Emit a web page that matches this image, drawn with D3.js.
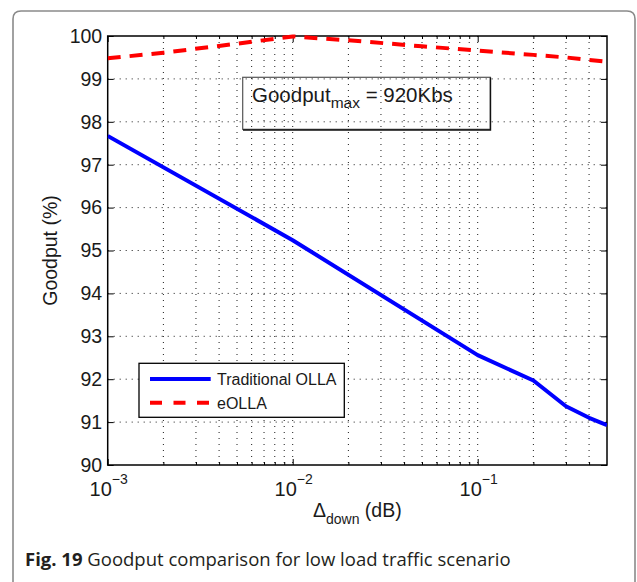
<!DOCTYPE html>
<html>
<head>
<meta charset="utf-8">
<script src="https://cdn.jsdelivr.net/npm/d3@7"></script>
<style>
  html, body { margin: 0; padding: 0; background: #fff; }
  svg { display: block; }
</style>
</head>
<body>
<div id="chart"></div>
<script>
// Values
const deltaDownTrad = [0.001, 0.01, 0.1, 0.2, 0.3, 0.4, 0.5];
const goodputTrad = [97.67, 95.24, 92.56, 91.97, 91.37, 91.1, 90.93];

const deltaDownEolla = [0.001, 0.002, 0.005, 0.01, 0.02, 0.05, 0.1, 0.2, 0.3, 0.4, 0.5];
const goodputEolla = [99.48, 99.61, 99.82, 99.99, 99.9, 99.76, 99.66, 99.56, 99.5, 99.44, 99.4];

const seriesNames = ['Traditional OLLA', 'eOLLA'];
const yTickValues = [90, 91, 92, 93, 94, 95, 96, 97, 98, 99, 100];
const xDecades = [0.001, 0.01, 0.1];
const xExponents = ['\u22123', '\u22122', '\u22121'];
const xMinorTicks = [0.002, 0.003, 0.004, 0.005, 0.006, 0.007, 0.008, 0.009,
  0.02, 0.03, 0.04, 0.05, 0.06, 0.07, 0.08, 0.09, 0.2, 0.3, 0.4];

const width = 637;
const height = 582;
const plot = { left: 107.7, right: 607, top: 36, bottom: 465 };
const tickFont = 'Liberation Sans, Arial, Helvetica, sans-serif';

const svg = d3.select('#chart')
  .append('svg')
  .attr('width', width)
  .attr('height', height);

// outer figure frame (rounded top corners, open at the bottom)
svg.append('path')
  .attr('d', `M13,${height + 5} L13,19 Q13,11 21,11 L627,11 Q635,11 635,19 L635,${height + 5}`)
  .attr('fill', 'none')
  .attr('stroke', '#8a8a8a')
  .attr('stroke-width', 1.6);

// scales
const x = d3.scaleLog()
  .domain([0.001, 0.5])
  .range([plot.left, plot.right]);

const y = d3.scaleLinear()
  .domain([90, 100])
  .range([plot.bottom, plot.top]);

// dotted grid
const grid = svg.append('g')
  .attr('stroke', '#000')
  .attr('stroke-width', 0.9)
  .attr('stroke-dasharray', '1,5');

grid.selectAll('.vgrid')
  .data(xDecades.concat(xMinorTicks).filter(d => d > 0.001))
  .join('line')
  .attr('x1', d => x(d)).attr('x2', d => x(d))
  .attr('y1', plot.top).attr('y2', plot.bottom);

grid.selectAll('.hgrid')
  .data(yTickValues.filter(d => d > 90 && d < 100))
  .join('line')
  .attr('x1', plot.left).attr('x2', plot.right)
  .attr('y1', d => y(d)).attr('y2', d => y(d));

// axes with inward ticks
const axisStyle = g => {
  g.select('.domain').remove();
  g.selectAll('line').attr('stroke', '#000').attr('stroke-width', 1);
  g.selectAll('text').remove();
};

svg.append('g')
  .attr('transform', `translate(0,${plot.bottom})`)
  .call(d3.axisBottom(x).tickValues(xDecades).tickSize(-6))
  .call(axisStyle);
svg.append('g')
  .attr('transform', `translate(0,${plot.bottom})`)
  .call(d3.axisBottom(x).tickValues(xMinorTicks).tickSize(-3))
  .call(axisStyle);
svg.append('g')
  .attr('transform', `translate(0,${plot.top})`)
  .call(d3.axisTop(x).tickValues(xDecades).tickSize(-6))
  .call(axisStyle);
svg.append('g')
  .attr('transform', `translate(0,${plot.top})`)
  .call(d3.axisTop(x).tickValues(xMinorTicks).tickSize(-3))
  .call(axisStyle);
svg.append('g')
  .attr('transform', `translate(${plot.left},0)`)
  .call(d3.axisLeft(y).tickValues(yTickValues).tickSize(-6))
  .call(axisStyle);
svg.append('g')
  .attr('transform', `translate(${plot.right},0)`)
  .call(d3.axisRight(y).tickValues(yTickValues).tickSize(-6))
  .call(axisStyle);

// tick labels
svg.append('g')
  .selectAll('text')
  .data(yTickValues)
  .join('text')
  .attr('x', plot.left - 5.5)
  .attr('y', d => y(d) + 6.8)
  .attr('text-anchor', 'end')
  .attr('font-family', tickFont)
  .attr('font-size', 19.5)
  .attr('fill', '#1a1a1a')
  .text(d => d);

const xLabels = svg.append('g')
  .selectAll('text')
  .data(xDecades)
  .join('text')
  .attr('x', (d, i) => x(d) + 1)
  .attr('y', plot.bottom + 31)
  .attr('text-anchor', 'middle')
  .attr('font-family', tickFont)
  .attr('fill', '#1a1a1a');
xLabels.append('tspan').attr('font-size', 20).text('10');
xLabels.append('tspan').attr('font-size', 14).attr('dy', -12).text((d, i) => xExponents[i]);

// plot box
svg.append('rect')
  .attr('x', plot.left).attr('y', plot.top)
  .attr('width', plot.right - plot.left)
  .attr('height', plot.bottom - plot.top)
  .attr('fill', 'none')
  .attr('stroke', '#000')
  .attr('stroke-width', 1.5);

// annotation box (transparent)
svg.append('rect')
  .attr('x', 242.7).attr('y', 77.3)
  .attr('width', 247.6).attr('height', 52)
  .attr('fill', 'none')
  .attr('stroke', '#555')
  .attr('stroke-width', 1.2);
svg.append('path')
  .attr('d', 'M243,130 L490.5,130 L490.5,77.5')
  .attr('fill', 'none')
  .attr('stroke', '#111')
  .attr('stroke-width', 1.4);

const note = svg.append('text')
  .attr('x', 252)
  .attr('y', 101.5)
  .attr('font-family', tickFont)
  .attr('font-size', 20.5)
  .attr('fill', '#1a1a1a');
note.append('tspan').text('Goodput');
note.append('tspan').attr('font-size', 15.5).attr('dy', 6).text('max');
note.append('tspan').attr('dy', -6).text(' = 920Kbs');

// lines
const line = d3.line()
  .x(d => x(d[0]))
  .y(d => y(d[1]));

svg.append('clipPath').attr('id', 'plotclip')
  .append('rect')
  .attr('x', plot.left).attr('y', plot.top - 4)
  .attr('width', plot.right - plot.left).attr('height', plot.bottom - plot.top + 8);

svg.append('path')
  .datum(d3.zip(deltaDownTrad, goodputTrad))
  .attr('clip-path', 'url(#plotclip)')
  .attr('d', line)
  .attr('fill', 'none')
  .attr('stroke', '#0000ff')
  .attr('stroke-width', 4)
  .attr('stroke-linejoin', 'round');

svg.append('path')
  .datum(d3.zip(deltaDownEolla, goodputEolla))
  .attr('clip-path', 'url(#plotclip)')
  .attr('d', line)
  .attr('fill', 'none')
  .attr('stroke', '#ff0000')
  .attr('stroke-width', 4)
  .attr('stroke-dasharray', '13,9');

// legend
const legend = svg.append('g');
legend.append('rect')
  .attr('x', 139).attr('y', 363.3)
  .attr('width', 205.3).attr('height', 54)
  .attr('fill', '#fff')
  .attr('stroke', '#000')
  .attr('stroke-width', 1.3);

const legendColors = ['#0000ff', '#ff0000'];
const legendDash = [null, '12,11.5'];
seriesNames.forEach((name, i) => {
  const ly = 379 + i * 23.7;
  legend.append('line')
    .attr('x1', 150).attr('x2', 210.7)
    .attr('y1', ly).attr('y2', ly)
    .attr('stroke', legendColors[i])
    .attr('stroke-width', 4)
    .attr('stroke-dasharray', legendDash[i]);
  legend.append('text')
    .attr('x', 217)
    .attr('y', ly + 5.8)
    .attr('font-family', tickFont)
    .attr('font-size', 16)
    .attr('fill', '#1a1a1a')
    .text(name);
});

// axis titles
const xTitle = svg.append('text')
  .attr('x', (plot.left + plot.right) / 2)
  .attr('y', 517)
  .attr('text-anchor', 'middle')
  .attr('font-family', tickFont)
  .attr('font-size', 19.5)
  .attr('fill', '#1a1a1a');
xTitle.append('tspan').text('\u0394');
xTitle.append('tspan').attr('font-size', 14).attr('dy', 7).text('down');
xTitle.append('tspan').attr('dy', -7).text(' (dB)');

svg.append('text')
  .attr('transform', `translate(57,${(plot.top + plot.bottom) / 2}) rotate(-90)`)
  .attr('text-anchor', 'middle')
  .attr('font-family', tickFont)
  .attr('font-size', 19.5)
  .attr('fill', '#1a1a1a')
  .text('Goodput (%)');

// caption
const caption = svg.append('text')
  .attr('x', 25)
  .attr('y', 566)
  .attr('font-family', 'Open Sans, Noto Sans, sans-serif')
  .attr('font-size', 18.5)
  .attr('fill', '#231f20');
caption.append('tspan').attr('font-weight', 'bold').text('Fig. 19');
caption.append('tspan').text(' Goodput comparison for low load traffic scenario');
</script>
</body>
</html>
